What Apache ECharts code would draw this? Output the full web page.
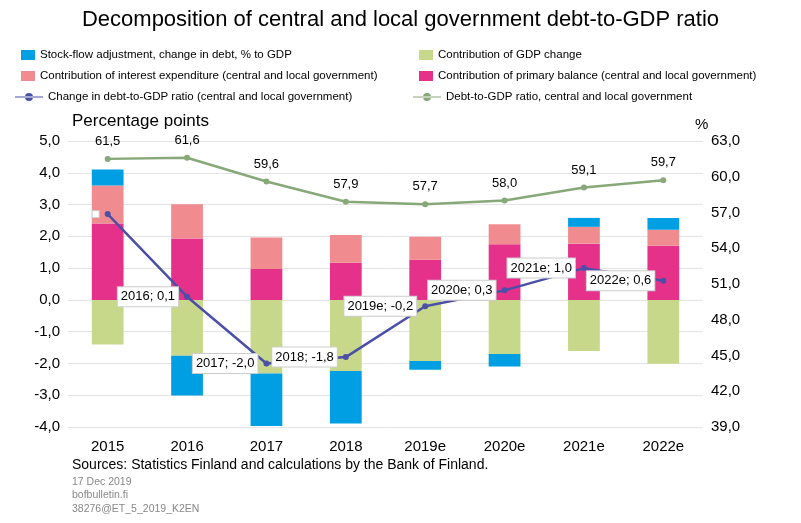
<!DOCTYPE html><html><head><meta charset="utf-8"><script src="https://cdn.jsdelivr.net/npm/echarts@6/dist/echarts.min.js"></script></head><body style="margin:0"><div id="c" style="width:801px;height:523px"></div><script>
const categories=['2015','2016','2017','2018','2019e','2020e','2021e','2022e'];
const primary=[2.4,1.93,0.97,1.17,1.26,1.75,1.77,1.7];
const interest=[1.2,1.08,0.99,0.87,0.73,0.63,0.53,0.51];
const gdp=[-1.4,-1.76,-2.32,-2.24,-1.92,-1.7,-1.61,-2.01];
const stockflow=[0.5,-1.25,-1.65,-1.65,-0.28,-0.4,0.28,0.37];
const changeRatio=[2.7,0.1,-2.0,-1.8,-0.2,0.3,1.0,0.6];
const debtRatio=[61.5,61.6,59.6,57.9,57.7,58.0,59.1,59.7];
const F='Arial, "Liberation Sans", sans-serif';
const fmt=v=>v.toFixed(1).replace('.',',');
const leg=(name,x,y,icon)=>({left:x,top:y,itemWidth:icon?28:14,itemHeight:icon?8:10,textStyle:{fontSize:11.5,fontFamily:F,color:'#000'},data:[icon?{name,icon}:{name,icon:'rect'}]});
const c=echarts.init(document.getElementById('c'));
c.setOption({animation:false,
title:{text:'Decomposition of central and local government debt-to-GDP ratio',left:'center',top:4,textStyle:{fontSize:22,fontWeight:'normal',fontFamily:F,color:'#000'}},
legend:[leg('Stock-flow adjustment, change in debt, % to GDP',16,44),leg('Contribution of GDP change',414,44),
leg('Contribution of interest expenditure (central and local government)',16,65),leg('Contribution of primary balance (central and local government)',414,65),
leg('Change in debt-to-GDP ratio (central and local government)',10,86,'path://M0,4L28,4L28,5L0,5Z M10,4.5A4,4 0 1,0 18,4.5A4,4 0 1,0 10,4.5Z'),
leg('Debt-to-GDP ratio, central and local government',408,86,'path://M0,4L28,4L28,5L0,5Z M10,4.5A4,4 0 1,0 18,4.5A4,4 0 1,0 10,4.5Z')],
grid:{left:68,right:98,top:141,bottom:96},
graphic:[{type:'text',left:72,top:113,style:{text:'Percentage points',fontSize:17,fontFamily:F,fill:'#000'}},
{type:'text',left:695,top:117,style:{text:'%',fontSize:15,fontFamily:F,fill:'#000'}},
{type:'text',left:72,top:458,style:{text:'Sources: Statistics Finland and calculations by the Bank of Finland.',fontSize:14,fontFamily:F,fill:'#000'}},
{type:'text',left:72,top:475,style:{text:'17 Dec 2019\nbofbulletin.fi\n38276@ET_5_2019_K2EN',fontSize:10.5,lineHeight:13.5,fontFamily:F,fill:'#888'}}],
xAxis:{type:'category',data:categories,axisTick:{show:false},axisLine:{show:false},axisLabel:{fontSize:15,fontFamily:F,color:'#000',margin:12}},
yAxis:[{type:'value',min:-4,max:5,interval:1,axisLabel:{formatter:fmt,fontSize:15,fontFamily:F,color:'#000'},splitLine:{lineStyle:{color:'#e4e4e4'}}},
{type:'value',min:39,max:63,interval:3,axisLabel:{formatter:fmt,fontSize:15,fontFamily:F,color:'#000'},splitLine:{show:false}}],
series:[
{name:'Contribution of primary balance (central and local government)',type:'bar',stack:'a',data:primary,barWidth:'40%',itemStyle:{color:'#e5318a'}},
{name:'Contribution of interest expenditure (central and local government)',type:'bar',stack:'a',data:interest,itemStyle:{color:'#f08c90'}},
{name:'Contribution of GDP change',type:'bar',stack:'a',data:gdp,itemStyle:{color:'#c8d88a'}},
{name:'Stock-flow adjustment, change in debt, % to GDP',type:'bar',stack:'a',data:stockflow,itemStyle:{color:'#009fe3'}},
{name:'Change in debt-to-GDP ratio (central and local government)',type:'line',data:changeRatio,symbol:'circle',symbolSize:6,lineStyle:{color:'#4b4fa8',width:2.5},itemStyle:{color:'#4b4fa8'},z:5,
 label:{show:true,position:'left',distance:6,fontSize:13,fontFamily:F,color:'#000',backgroundColor:'#fff',borderColor:'#ccc',borderWidth:1,padding:[3,3],
 formatter:p=>p.dataIndex===0?'':categories[p.dataIndex]+'; '+fmt(p.value)}},
{name:'Debt-to-GDP ratio, central and local government',type:'line',yAxisIndex:1,data:debtRatio,symbol:'circle',symbolSize:6,lineStyle:{color:'#87a878',width:2.5},itemStyle:{color:'#87a878'},
 label:{show:true,position:'top',distance:8,fontSize:13,fontFamily:F,color:'#000',formatter:p=>fmt(p.value)}}
]});
</script></body></html>
